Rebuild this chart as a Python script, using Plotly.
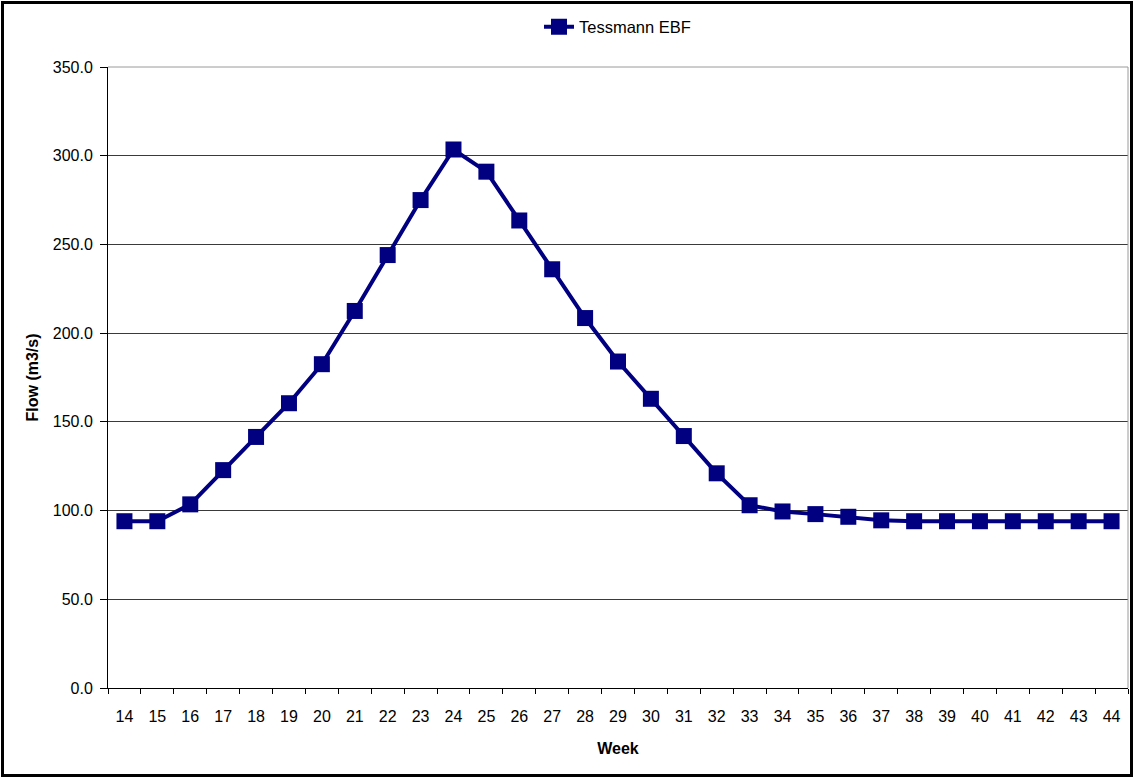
import plotly.graph_objects as go

# Weekly flow series
weeks = [str(w) for w in range(14, 45)]
flow = [94.0, 94.0, 103.5, 122.8, 141.5, 160.5, 182.5, 212.5, 244.0, 275.0,
        303.5, 291.0, 263.5, 236.0, 208.5, 184.0, 163.0, 142.0, 121.0, 103.0,
        99.5, 98.0, 96.5, 94.5, 94.0, 94.0, 94.0, 94.0, 94.0, 94.0, 94.0]
y_ticks = [0, 50, 100, 150, 200, 250, 300, 350]

W, H = 1134, 778
L, R, T, B = 108, 6, 67, 90
pw, ph = W - L - R, H - T - B


def px_x(p):
    return (p - L) / pw


def px_y(p):
    return (H - B - p) / ph


navy = "#000080"
font = "Liberation Sans, Arial, sans-serif"

fig = go.Figure()
fig.add_trace(go.Scatter(
    x=weeks, y=flow, mode="lines+markers", name="Tessmann EBF",
    line=dict(color=navy, width=4),
    marker=dict(symbol="square", size=16, color=navy),
))

fig.update_layout(
    width=W, height=H,
    margin=dict(l=L, r=R, t=T, b=B),
    paper_bgcolor="white", plot_bgcolor="white",
    font=dict(family=font, size=16, color="black"),
    showlegend=True,
    legend=dict(x=px_x(539), y=px_y(27), xanchor="left", yanchor="middle",
                orientation="h", font=dict(size=16.5), bgcolor="rgba(0,0,0,0)",
                itemwidth=30),
    xaxis=dict(
        type="category", tickson="boundaries", ticks="outside", ticklen=5,
        tickcolor="black", showline=True, linecolor="black", linewidth=1,
        showgrid=False, range=[-0.5, len(weeks) - 0.5],
        ticklabelstandoff=14,
        title=dict(text="<b>Week</b>", font=dict(size=16), standoff=18),
        tickfont=dict(size=16),
    ),
    yaxis=dict(
        range=[0, 350], tickvals=y_ticks, tickformat=".1f",
        ticks="outside", ticklen=7, tickcolor="black",
        showline=True, linecolor="black", linewidth=1,
        showgrid=True, gridcolor="#3a3a3a", gridwidth=1, zeroline=False,
        ticklabelstandoff=4,
        title=dict(text="<b>Flow (m3/s)</b>", font=dict(size=16), standoff=10),
        tickfont=dict(size=16),
    ),
    shapes=[
        # light border on the top and right of the plot area
        dict(type="line", xref="paper", yref="paper", x0=0, x1=1, y0=1, y1=1,
             line=dict(color="#9a9a9a", width=1)),
        dict(type="line", xref="paper", yref="paper", x0=1, x1=1, y0=0, y1=1,
             line=dict(color="#9a9a9a", width=1)),
        # outer chart frame
        dict(type="rect", xref="paper", yref="paper",
             x0=px_x(2.5), x1=px_x(1131.5), y0=px_y(775.5), y1=px_y(2.5),
             line=dict(color="black", width=3), layer="above"),
    ],
)

fig.write_html("out.html")
